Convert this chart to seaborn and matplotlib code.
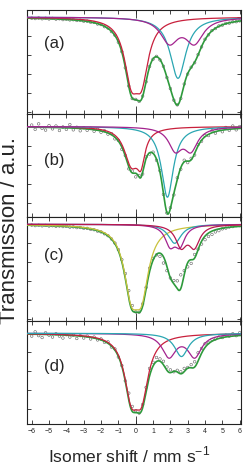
import numpy as np
import matplotlib
matplotlib.use("Agg")
import matplotlib.pyplot as plt
import seaborn as sns

sns.set_style("ticks")
plt.rcParams['font.family'] = ['Liberation Sans', 'DejaVu Sans']
plt.rcParams['mathtext.fontset'] = 'custom'
plt.rcParams['mathtext.rm'] = 'Liberation Sans'

# ---------- measured spectra (transmission %, baseline = 100) ----------
velocity = np.round(np.arange(-6.0, 6.01, 0.2), 1)

trans_a = [99.88, 99.84, 99.90, 99.82, 99.87, 99.80, 99.86, 99.78, 99.82, 99.73,
           99.78, 99.70, 99.72, 99.64, 99.66, 99.56, 99.57, 99.45, 99.43, 99.27,
           99.21, 98.99, 98.84, 98.47, 98.09, 97.35, 96.36, 94.66, 92.74, 91.42,
           91.33, 91.12, 91.68, 93.19, 94.80, 95.56, 95.86, 95.49, 94.82, 93.63,
           92.47, 91.25, 90.76, 91.43, 92.95, 94.00, 94.72, 95.19, 96.05, 96.86,
           97.66, 98.13, 98.58, 98.79, 99.06, 99.15, 99.33, 99.36, 99.50, 99.51, 99.60]
trans_b = [100.15, 99.70, 100.28, 99.80, 99.62, 100.10, 99.75, 100.05, 99.58, 99.95,
           99.70, 100.20, 99.65, 99.92, 99.55, 99.88, 99.60, 99.82, 99.50, 99.70,
           99.40, 99.55, 99.20, 99.25, 98.70, 98.55, 97.60, 96.95, 95.55, 95.30,
           94.70, 94.85, 95.00, 96.80, 97.10, 97.30, 96.45, 95.35, 92.85, 90.90,
           91.45, 92.80, 94.60, 95.50, 96.45, 96.20, 96.65, 97.00, 98.10, 98.45,
           99.05, 99.05, 99.55, 99.30, 99.75, 99.45, 99.90, 99.60, 100.05, 99.65, 100.00]
trans_c = [99.92, 99.86, 99.90, 99.84, 99.88, 99.82, 99.85, 99.78, 99.82, 99.76,
           99.78, 99.70, 99.73, 99.65, 99.66, 99.58, 99.57, 99.47, 99.43, 99.28,
           99.20, 99.00, 98.80, 98.46, 98.02, 97.33, 96.28, 94.82, 93.02, 91.45,
           90.78, 90.75, 91.62, 93.35, 95.38, 96.42, 96.78, 96.62, 95.92, 95.12,
           94.35, 94.08, 94.05, 94.68, 95.12, 95.52, 95.88, 96.82, 97.38, 97.92,
           98.38, 98.72, 98.93, 99.20, 99.33, 99.52, 99.60, 99.72, 99.76, 99.86, 99.86]
trans_d = [99.70, 100.15, 99.75, 99.55, 100.05, 99.80, 99.60, 99.95, 99.70, 99.50,
           99.85, 99.60, 99.80, 99.45, 99.75, 99.50, 99.70, 99.40, 99.60, 99.30,
           99.40, 99.05, 99.10, 98.55, 98.35, 97.50, 96.60, 95.00, 93.70, 92.30,
           91.85, 91.60, 92.50, 94.30, 96.30, 96.95, 97.45, 97.30, 97.05, 96.45,
           96.15, 95.95, 96.10, 95.95, 96.30, 96.40, 96.70, 97.00, 97.95, 98.40,
           98.90, 99.00, 99.35, 99.40, 99.60, 99.55, 99.80, 99.70, 99.95, 99.75, 100.05]

# ---------- fitted sub-spectra: (colour, line positions mm/s, HWHM mm/s, line depth %) ----------
RED, CYAN, MAG, YEL, CRIM, GREEN = '#c8203c', '#2aa6b2', '#a3238e', '#c9c23c', '#b8174f', '#2e9a3c'

sites_a = [(RED, [-0.26, 0.34], 0.48, 5.61),
           (CYAN, [2.44], 0.55, 6.45),
           (MAG, [1.945, 3.385], 0.62, 2.55)]
sites_b = [(RED, [-0.25], 0.50, 3.79),
           (RED, [0.30], 0.28, 2.95),
           (CYAN, [1.83], 0.42, 7.44),
           (MAG, [2.285, 3.185], 0.47, 2.29)]
sites_c = [(YEL, [-0.26, 0.34], 0.50, 6.12),
           (CYAN, [2.25], 0.45, 2.0),
           (MAG, [1.98, 2.55], 0.35, 2.0),
           (CRIM, [2.62, 3.38], 0.38, 2.2)]
sites_d = [(RED, [-0.26, 0.34], 0.48, 5.61),
           (MAG, [1.92, 3.40], 0.48, 2.4),
           (CYAN, [2.64], 0.48, 2.45)]

labels = ['(a)', '(b)', '(c)', '(d)']
ylims = [(89.84, 100.74), (90.46, 101.36), (89.85, 100.75), (90.42, 101.32)]
label_y = [0.68, 0.55, 0.63, 0.56]


def lorentz(x, pos, hw, depth):
    return sum(depth * hw ** 2 / (hw ** 2 + (x - p) ** 2) for p in pos)


xs = np.linspace(-6.3, 6.1, 800)

fig, axes = plt.subplots(4, 1, figsize=(2.48, 4.66), dpi=100, sharex=True)
fig.subplots_adjust(left=0.109, right=0.970, top=0.9785, bottom=0.0895, hspace=0)

for i, (ax, data, sites) in enumerate(zip(axes, [trans_a, trans_b, trans_c, trans_d],
                                          [sites_a, sites_b, sites_c, sites_d])):
    sns.scatterplot(x=velocity, y=data, ax=ax, marker='o', s=3.5, color='none',
                    edgecolor='#606060', linewidth=0.4, zorder=2, legend=False)
    total = sum(lorentz(xs, p, w, d) for _, p, w, d in sites)
    sns.lineplot(x=xs, y=100 - total, ax=ax, color=GREEN, lw=1.2, sort=False,
                 estimator=None, zorder=3)
    # merge split sites of one colour for drawing
    comps = {}
    for col, p, w, d in sites:
        comps[col] = comps.get(col, 0) + lorentz(xs, p, w, d)
    for col, comp in comps.items():
        sns.lineplot(x=xs, y=100 - comp, ax=ax, color=col, lw=0.9, sort=False,
                     estimator=None, zorder=4)

    ax.set_xlim(-6.27, 6.05)
    ax.set_ylim(*ylims[i])
    ax.set_yticks([t for t in [100, 98, 96, 94, 92, 90] if ylims[i][0] < t < ylims[i][1]])
    ax.set_yticklabels([])
    ax.set_xticks(range(-6, 7))
    ax.xaxis.remove_overlapping_locs = False
    ax.set_xticks([0], minor=True)
    ax.tick_params(which='major', direction='in', top=True, right=True, length=3,
                   width=0.6, labelsize=5, pad=2.5)
    ax.tick_params(which='minor', axis='x', direction='in', top=True, bottom=True,
                   length=6, width=0.6)
    ax.tick_params(axis='x', labelbottom=(i == 3))
    for s in ax.spines.values():
        s.set_linewidth(0.8)
        s.set_color('#222222')
    ax.text(0.08, label_y[i], labels[i], transform=ax.transAxes, fontsize=12,
            va='center', ha='left')

fig.text(0.04, 0.506, 'Transmission / a.u.', rotation=90, va='center', ha='center',
         fontsize=16)
fig.text(0.52, 0.024, 'Isomer shift / mm s$^{-1}$', va='center', ha='center', fontsize=12.5)

fig.savefig('out.png', dpi=100)
